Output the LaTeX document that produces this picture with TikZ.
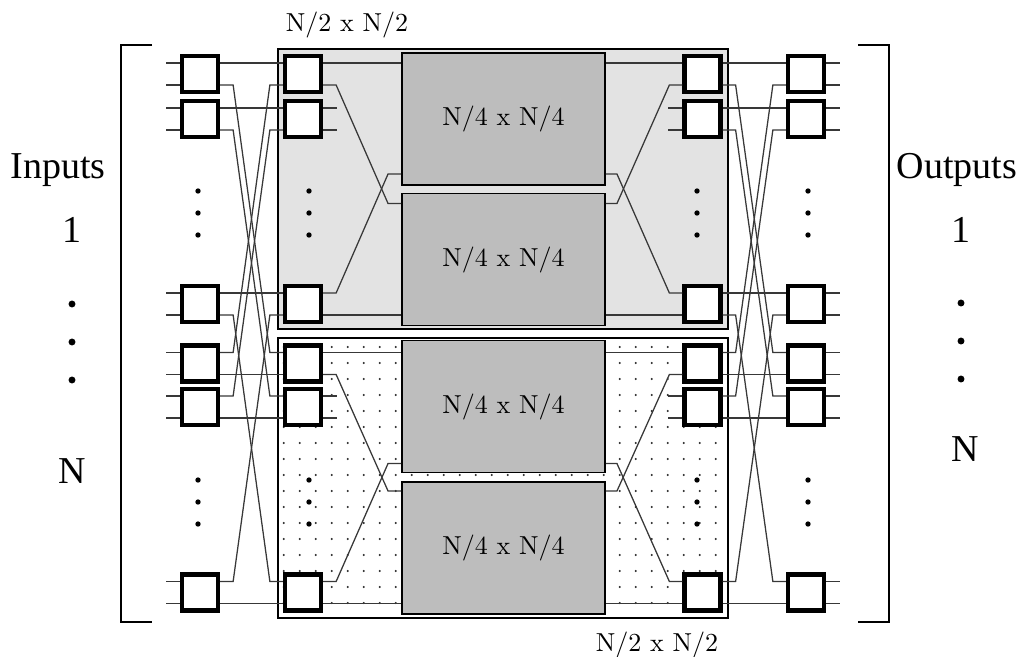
\documentclass[tikz,border=0pt]{standalone}
\usepackage{fontspec}
\usepackage{tikz}
\usetikzlibrary{calc}
\newfontfamily\sidefont{Liberation Serif}
\newfontfamily\sizefont[Extension=.otf]{lmroman10-regular}

\begin{document}
\begin{tikzpicture}[
    x=0.75pt, y=-0.75pt,
    switch/.style={draw, fill=white, line width=3.2pt, minimum size=27pt, inner sep=0pt},
    panel/.style={draw, line width=1.5pt, minimum width=337.5pt, minimum height=210pt, inner sep=0pt},
    block/.style={draw, fill=black!26, line width=1.4pt, minimum width=152.25pt, minimum height=99pt, inner sep=0pt, align=center, font=\sizefont\fontsize{19.5}{22}\selectfont},
    wire/.style={line width=0.95pt, black!78},
    frame/.style={line width=1.5pt},
    size/.style={font=\sizefont\fontsize{19.5}{22}\selectfont, inner sep=0pt},
    side/.style={font=\sidefont\fontsize{28.5}{32}\selectfont, inner sep=0pt}
]
    \useasboundingbox (0,0) rectangle (1025,657);

    % Panels
    \node[panel, fill=black!11] (upper) at (503,189) {};
    \node[panel, fill=white] (lower) at (502.5,478) {};

    % Dot screen of the lower panel
    \foreach \i in {0,...,27}
        \foreach \j in {0,...,16}
            \fill[black!85] ({283.7+16*\i},{347+16*\j}) circle (0.8pt);

    % Inner blocks
    \node[block] (blockA) at (503.5,119) {N/4 x N/4};
    \node[block] (blockB) at (503.5,259.5) {N/4 x N/4};
    \node[block] (blockC) at (503.5,406.5) {N/4 x N/4};
    \node[block] (blockD) at (503.5,548) {N/4 x N/4};

    % Switches and their ports
    \foreach \c/\x in {1/200,2/303,3/702.5,4/806}
        \foreach \r/\y in {a/74,b/119,c/304,d/363.5,e/407,f/592.5} {
            \node[switch] (sw\c\r) at (\x,\y) {};
            \coordinate (sw\c\r-ne) at ($(sw\c\r.east)+(0,-11)$);
            \coordinate (sw\c\r-se) at ($(sw\c\r.east)+(0,11)$);
            \coordinate (sw\c\r-nw) at ($(sw\c\r.west)+(0,-11)$);
            \coordinate (sw\c\r-sw) at ($(sw\c\r.west)+(0,11)$);
        }

    % Free ends
    \foreach \r in {a,b,c,d,e,f} {
        \draw[wire] (sw1\r-nw) -- ++(-14,0);
        \draw[wire] (sw1\r-sw) -- ++(-14,0);
        \draw[wire] (sw4\r-ne) -- ++(14,0);
        \draw[wire] (sw4\r-se) -- ++(14,0);
    }
    \foreach \r in {b,e} {
        \draw[wire] (sw2\r-ne) -- ++(14,0);
        \draw[wire] (sw2\r-se) -- ++(14,0);
        \draw[wire] (sw3\r-nw) -- ++(-14,0);
        \draw[wire] (sw3\r-sw) -- ++(-14,0);
    }

    % Straight wires between outer columns
    \foreach \l/\r in {1/2,3/4} {
        \foreach \q in {a,b,c}
            \draw[wire] (sw\l\q-ne) -- (sw\r\q-nw);
        \foreach \q in {d,e,f}
            \draw[wire] (sw\l\q-se) -- (sw\r\q-sw);
    }

    % Shuffle wires between outer columns
    \foreach \l/\r in {1/2,3/4}
        \foreach \a/\b in {a/d,b/e,c/f} {
            \draw[wire] (sw\l\a-se) -- ++(13,0) -- ($(sw\r\b-nw)+(-13,0)$) -- (sw\r\b-nw);
            \draw[wire] (sw\l\b-ne) -- ++(13,0) -- ($(sw\r\a-sw)+(-13,0)$) -- (sw\r\a-sw);
        }

    % Block ports
    \coordinate (inA) at ($(blockA.south west)+(0,-12)$);
    \coordinate (inB) at ($(blockB.north west)+(0,11)$);
    \coordinate (inC) at ($(blockC.south west)+(0,-10)$);
    \coordinate (inD) at ($(blockD.north west)+(0,10)$);
    \coordinate (outA) at ($(blockA.south east)+(0,-12)$);
    \coordinate (outB) at ($(blockB.north east)+(0,11)$);
    \coordinate (outC) at ($(blockC.south east)+(0,-10)$);
    \coordinate (outD) at ($(blockD.north east)+(0,10)$);

    % Wires into the blocks
    \draw[wire] (sw2a-ne) -- (sw2a-ne -| blockA.west);
    \draw[wire] (sw2a-se) -- ++(13,0) -- ($(inB)+(-13,0)$) -- (inB);
    \draw[wire] (sw2c-ne) -- ++(13,0) -- ($(inA)+(-13,0)$) -- (inA);
    \draw[wire] (sw2c-se) -- (sw2c-se -| blockB.west);
    \draw[wire] (sw2d-ne) -- (sw2d-ne -| blockC.west);
    \draw[wire] (sw2d-se) -- ++(13,0) -- ($(inD)+(-13,0)$) -- (inD);
    \draw[wire] (sw2f-ne) -- ++(13,0) -- ($(inC)+(-13,0)$) -- (inC);
    \draw[wire] (sw2f-se) -- (sw2f-se -| blockD.west);

    % Wires out of the blocks
    \draw[wire] (sw3a-nw) -- (sw3a-nw -| blockA.east);
    \draw[wire] (sw3a-sw) -- ++(-13,0) -- ($(outB)+(11,0)$) -- (outB);
    \draw[wire] (sw3c-nw) -- ++(-13,0) -- ($(outA)+(11,0)$) -- (outA);
    \draw[wire] (sw3c-sw) -- (sw3c-sw -| blockB.east);
    \draw[wire] (sw3d-nw) -- (sw3d-nw -| blockC.east);
    \draw[wire] (sw3d-sw) -- ++(-13,0) -- ($(outD)+(11,0)$) -- (outD);
    \draw[wire] (sw3f-nw) -- ++(-13,0) -- ($(outC)+(11,0)$) -- (outC);
    \draw[wire] (sw3f-sw) -- (sw3f-sw -| blockD.east);

    % Ellipsis dots
    \foreach \x in {198,309,697,808}
        \foreach \y in {191,213,235,480,502,524}
            \fill (\x,\y) circle (2pt);
    \foreach \y in {304,342,380}
        \fill (72,\y) circle (2.6pt);
    \foreach \y in {303,341,379}
        \fill (961,\y) circle (2.6pt);

    % Brackets
    \draw[frame] (152,45) -- (121,45) -- (121,622) -- (152,622);
    \draw[frame] (858,45) -- (889,45) -- (889,622) -- (858,622);

    % Labels
    \node[size] (sizeTop) at (347,25) {N/2 x N/2};
    \node[size] (sizeBottom) at (657,645) {N/2 x N/2};
    \node[side] (inputs) at (58,170) {Inputs};
    \node[side] (inOne) at (72,230) {1};
    \node[side] (inN) at (72,471) {N};
    \node[side] (outputs) at (957,170) {Outputs};
    \node[side] (outOne) at (961,230) {1};
    \node[side] (outN) at (965,449) {N};
\end{tikzpicture}
\end{document}
